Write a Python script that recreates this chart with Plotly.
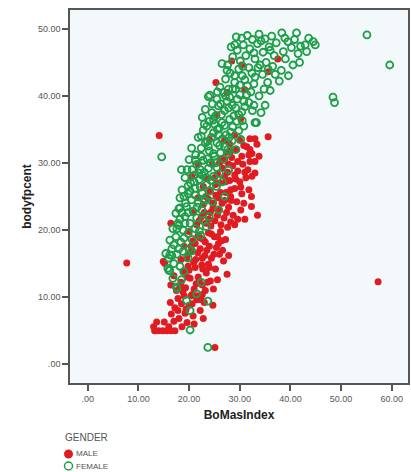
import plotly.graph_objects as go

# ---------------- data ----------------
female_bmi = [
    38.3, 41.2, 39.5, 38.9, 43.6, 42.9, 44.9, 44.5, 40.2, 41.5, 39.0, 40.5, 38.2, 39.6, 37.8, 41.8, 36.5,
    30.7, 32.0, 33.5, 34.6, 35.8, 31.2, 29.5, 33.0, 36.8, 30.1, 34.0, 28.6, 31.8, 35.2, 37.2, 32.5, 29.8,
    28.1, 26.1, 24.1, 27.2, 29.0, 30.5, 31.5, 33.0, 34.5, 35.5, 32.2, 30.0, 28.0, 26.8, 25.5, 33.8, 34.8, 36.0, 29.2, 27.5, 31.0,
    23.8, 23.2, 24.5, 25.8, 27.0, 28.5, 29.8, 31.0, 32.5, 33.3, 30.5, 28.0, 26.5, 24.8, 22.6, 27.5, 29.5, 31.8, 25.2, 23.5,
    22.8, 21.8, 23.6, 24.8, 26.0, 27.3, 28.6, 29.8, 30.8, 25.5, 27.0, 28.5, 22.4, 20.5, 24.0, 26.2, 21.3, 29.2, 23.0, 25.0,
    20.0, 21.5, 22.8, 24.2, 25.5, 26.8, 27.8, 23.0, 21.0, 19.6, 24.8, 26.0, 22.0, 20.3, 23.5, 19.2, 25.0, 27.6,
    18.6, 19.8, 21.2, 22.6, 24.0, 25.4, 20.5, 21.8, 23.2, 18.2, 19.5, 24.6, 20.8, 22.5, 18.0, 17.4,
    19.2, 20.2, 21.5, 22.8, 17.8, 18.8, 19.8, 21.2, 16.8, 17.4, 18.4, 20.6, 16.2, 22.3, 23.4,
    16.6, 17.6, 18.8, 19.8, 16.0, 17.0, 18.2, 16.2, 20.5, 15.4, 19.0,
    17.5, 20.2, 17.6, 20.2, 23.7, 23.7, 16.0, 18.5, 21.5, 22.4, 19.5, 16.8,
    55.1, 59.6, 48.4, 48.7, 14.6,
    18.5, 18.2, 18.0, 16.2, 15.8,
    26.5, 28.3, 29.3, 31.5, 33.8, 35.0, 36.3, 27.8, 30.8, 32.8, 26.2, 28.8, 30.2, 27.9, 25.8, 23.8,
    22.2, 24.3, 21.2, 19.3, 18.2, 20.0, 21.9, 26.6, 27.0, 25.8, 24.0, 22.0,
    33.0, 34.2, 35.0,
    29.0, 30.4, 32.8, 34.2, 36.0, 27.6, 29.0, 30.6, 32.4, 33.6, 35.6, 37.0, 38.6, 40.8, 42.0, 43.2,
    24.6, 25.6, 27.2, 28.6, 30.0, 31.4, 32.8, 26.4, 27.8, 29.2, 30.4, 24.0, 25.6, 27.0, 28.2, 29.4,
    22.4, 23.2, 24.4, 26.6, 27.6, 21.2, 22.4, 23.6, 24.8, 26.0, 20.6, 22.6, 23.8, 25.2,
    19.8, 21.0, 22.2, 23.4, 19.0, 20.2, 21.6, 22.8, 18.6, 19.8, 17.6, 19.2, 17.0, 18.0, 19.0, 16.6,
]
female_bodyfat = [
    49.4, 49.4, 48.1, 48.6, 48.6, 47.6, 47.6, 48.1, 47.2, 46.3, 45.5, 44.6, 43.8, 43.0, 42.2, 45.0, 44.4,
    47.6, 47.0, 47.8, 46.5, 47.3, 46.0, 46.8, 45.5, 46.0, 45.2, 44.6, 45.8, 44.2, 45.0, 47.9, 48.4, 44.0,
    43.4, 41.3, 40.1, 42.5, 42.0, 43.0, 41.5, 42.8, 43.2, 42.0, 40.6, 40.2, 39.8, 40.5, 39.5, 40.0, 41.0, 40.8, 41.0, 43.8, 42.4,
    39.9, 38.0, 37.5, 38.5, 37.8, 38.6, 37.2, 38.4, 37.8, 36.0, 36.3, 36.5, 36.0, 36.4, 36.8, 39.2, 39.5, 39.0, 37.0, 35.5,
    34.9, 33.8, 33.2, 34.5, 35.2, 34.2, 35.4, 34.8, 35.5, 33.0, 32.4, 33.3, 32.2, 32.2, 31.8, 31.5, 31.2, 32.0, 35.8, 35.8,
    30.5, 29.8, 30.4, 30.0, 29.3, 30.6, 29.0, 28.6, 28.2, 29.0, 28.0, 28.4, 27.5, 27.0, 26.8, 27.8, 31.0, 31.4,
    26.0, 25.4, 26.2, 25.5, 25.8, 26.5, 24.5, 24.0, 24.4, 24.8, 23.5, 24.2, 22.8, 23.0, 23.2, 22.5,
    22.0, 21.0, 21.8, 21.4, 21.0, 20.0, 19.5, 20.2, 20.2, 19.0, 18.2, 18.6, 18.5, 19.2, 20.5,
    17.2, 16.4, 16.8, 15.8, 15.8, 15.0, 14.6, 14.0, 16.9, 16.5, 13.8,
    11.5, 8.0, 11.3, 5.1, 2.5, 9.4, 14.0, 12.6, 10.5, 12.2, 9.5, 12.8,
    49.1, 44.6, 39.8, 39.0, 30.9,
    29.0, 23.3, 20.7, 16.3, 14.3,
    44.8, 47.3, 48.8, 49.0, 49.2, 48.5, 48.9, 41.0, 39.2, 41.8, 38.8, 37.0, 33.5, 33.8, 34.2, 32.5,
    29.0, 27.4, 25.2, 24.0, 21.6, 17.2, 28.5, 27.2, 25.0, 23.0, 22.0, 19.8,
    36.0, 37.5, 38.6,
    47.6, 48.6, 46.4, 48.2, 46.8, 44.6, 43.0, 44.4, 43.4, 44.2, 44.0, 43.2, 46.6, 48.4, 47.4, 46.6,
    38.8, 40.6, 40.0, 41.0, 41.6, 40.2, 38.6, 37.2, 38.2, 38.2, 37.6, 36.2, 35.0, 35.6, 34.6, 36.2,
    34.0, 33.0, 33.8, 33.6, 32.0, 30.4, 31.0, 30.6, 31.4, 32.6, 29.0, 28.2, 29.2, 30.0,
    26.6, 27.2, 26.4, 27.8, 25.0, 25.8, 23.4, 24.6, 22.6, 22.6, 20.2, 21.0, 17.8, 17.2, 18.8, 16.2,
]

male_bmi = [
    13.2, 14.0, 14.8, 15.6, 16.4, 17.2, 13.6, 15.1, 13.0, 16.0,
    16.5, 17.2, 18.0, 18.5, 19.2, 20.0, 20.8, 21.5, 22.2, 19.6, 17.8, 23.0, 24.7, 21.0, 22.8, 18.6, 20.4, 17.0, 22.6, 16.3,
    17.5, 18.4, 19.3, 20.2, 21.0, 21.8, 22.6, 23.4, 24.2, 18.8, 19.8, 21.2, 22.5, 23.8, 25.2, 17.0, 20.6, 24.8, 27.5, 16.4, 15.2, 25.6, 19.0, 22.0,
    19.5, 20.4, 21.3, 22.2, 23.1, 24.0, 24.9, 25.8, 26.6, 20.8, 21.8, 22.8, 23.8, 25.0, 26.2, 27.2, 19.0, 18.4, 27.8, 20.0, 14.9, 7.7, 16.4, 26.8,
    21.5, 22.4, 23.3, 24.2, 25.1, 26.0, 26.9, 27.8, 28.7, 22.8, 23.8, 24.8, 25.8, 27.0, 28.2, 29.4, 30.2, 29.0, 27.6, 20.8, 33.5, 32.3, 32.3, 31.0, 21.8,
    24.2, 25.2, 26.2, 27.2, 28.2, 29.2, 30.2, 31.2, 25.6, 26.6, 27.6, 28.6, 29.6, 30.6, 31.6, 32.4, 23.6, 31.8, 24.6, 33.0, 33.0,
    26.4, 27.4, 28.4, 29.4, 30.4, 31.4, 32.4, 33.4, 28.0, 30.0, 32.0, 27.0, 35.6, 14.1, 33.8, 29.0, 32.0,
    37.5, 27.5, 25.5, 28.4, 22.8, 20.5, 24.0, 25.3, 30.2, 21.8, 30.4, 35.6, 31.0,
    25.1, 57.3,
    17.8, 18.8, 19.6, 20.6, 21.4, 22.4, 23.2, 18.2, 20.0, 21.6, 23.6, 19.4,
    19.8, 20.9, 21.7, 22.6, 23.5, 24.4, 25.4, 21.2, 22.2, 23.2, 24.4, 25.6, 26.4, 24.0, 26.0, 20.4, 22.7,
    22.0, 23.0, 23.9, 24.7, 25.6, 26.5, 27.4, 28.3, 29.6, 30.4, 24.3, 26.3, 28.2, 25.3, 27.3, 29.0, 30.8, 23.3,
    25.0, 26.0, 27.0, 28.0, 29.0, 30.0, 31.0, 32.0, 26.0, 27.0, 28.2, 29.6, 30.8, 31.8, 33.0, 27.8,
]
male_bodyfat = [
    5.0, 5.0, 5.0, 5.0, 5.0, 5.0, 6.3, 6.3, 5.6, 5.6,
    7.5, 8.4, 6.8, 9.0, 7.6, 8.8, 7.2, 9.6, 8.0, 6.2, 9.8, 9.2, 8.8, 6.0, 6.8, 5.6, 10.2, 6.4, 10.4, 9.2,
    11.0, 12.2, 11.4, 12.8, 11.2, 13.0, 11.8, 13.6, 12.4, 13.8, 14.6, 14.4, 14.8, 14.9, 14.2, 13.2, 10.4, 11.2, 13.4, 11.8, 15.0, 12.6, 10.2, 12.4,
    15.8, 16.8, 15.6, 17.2, 16.2, 17.6, 16.4, 18.0, 17.0, 18.4, 19.2, 18.6, 19.6, 19.0, 19.8, 18.6, 17.6, 15.6, 16.2, 19.8, 15.3, 15.1, 21.0, 15.4,
    20.8, 22.0, 21.0, 22.6, 21.4, 23.0, 21.8, 23.4, 22.2, 23.8, 24.6, 24.0, 24.8, 24.4, 25.0, 24.2, 23.0, 20.8, 20.4, 22.6, 22.2, 23.5, 25.0, 21.6, 24.8,
    25.8, 26.8, 25.6, 27.2, 26.0, 27.6, 26.4, 27.8, 28.4, 29.2, 28.6, 29.6, 28.8, 29.8, 29.0, 28.0, 27.6, 26.0, 29.8, 30.2, 28.5,
    30.6, 31.6, 30.8, 32.0, 31.0, 32.4, 31.4, 32.8, 32.8, 33.4, 33.6, 33.4, 33.9, 34.1, 31.0, 34.2, 32.0,
    45.5, 40.5, 37.2, 45.2, 26.5, 28.0, 33.5, 42.0, 36.6, 29.8, 44.6, 43.6, 40.9,
    2.5, 12.3,
    8.0, 10.8, 13.0, 9.0, 12.0, 9.6, 11.0, 11.6, 14.0, 10.2, 12.2, 8.2,
    16.4, 15.2, 16.6, 15.8, 17.0, 15.8, 17.4, 18.0, 18.8, 18.2, 19.4, 19.0, 18.4, 14.4, 16.4, 17.6, 14.2,
    21.4, 22.6, 21.6, 23.2, 22.2, 24.0, 22.6, 24.4, 21.6, 25.4, 20.6, 20.8, 21.2, 25.2, 25.6, 26.2, 24.0, 25.0,
    27.8, 27.0, 28.0, 27.4, 28.2, 27.2, 28.6, 30.2, 30.0, 30.4, 31.8, 30.2, 32.6, 31.2, 33.6, 29.8,
]

x_ticks = [0, 10, 20, 30, 40, 50, 60]
x_tick_labels = [".00", "10.00", "20.00", "30.00", "40.00", "50.00", "60.00"]
y_ticks = [0, 10, 20, 30, 40, 50]
y_tick_labels = [".00", "10.00", "20.00", "30.00", "40.00", "50.00"]
legend_title = "GENDER"
legend_labels = ["MALE", "FEMALE"]

RED = "#E11B22"
GREEN = "#1E9E48"
TXT = "#555555"
FONT = "Liberation Sans, Arial, sans-serif"

# plot area in pixels (for placing the legend below it)
W, H = 411, 472
L, R, T, B = 70, 3, 10, 89
pw, ph = W - L - R, H - T - B
def px(xp):
    return (xp - L) / pw
def py(yp):
    return (H - B - yp) / ph

fig = go.Figure()
fig.add_trace(go.Scatter(
    x=male_bmi, y=male_bodyfat, mode="markers", name=legend_labels[0], showlegend=False,
    marker=dict(symbol="circle", size=7, color=RED, line=dict(width=0)),
))
fig.add_trace(go.Scatter(
    x=female_bmi, y=female_bodyfat, mode="markers", name=legend_labels[1], showlegend=False,
    marker=dict(symbol="circle-open", size=7, color=GREEN, line=dict(width=1.8, color=GREEN)),
))

axis_common = dict(
    showgrid=False, zeroline=False, showline=True, mirror=True,
    linecolor="#555555", linewidth=1.5,
    ticks="outside", ticklen=6, tickwidth=1.5, tickcolor="#555555",
    tickfont=dict(family=FONT, size=9, color=TXT),
)

# legend (SPSS style, below the plot)
annotations = [
    dict(text=legend_title, x=px(63), y=py(437), xref="paper", yref="paper",
         xanchor="left", yanchor="middle", showarrow=False,
         font=dict(family=FONT, size=10, color=TXT)),
    dict(text=legend_labels[0], x=px(74), y=py(454), xref="paper", yref="paper",
         xanchor="left", yanchor="middle", showarrow=False,
         font=dict(family=FONT, size=8, color=TXT)),
    dict(text=legend_labels[1], x=px(74), y=py(466), xref="paper", yref="paper",
         xanchor="left", yanchor="middle", showarrow=False,
         font=dict(family=FONT, size=8, color=TXT)),
]
shapes = [
    dict(type="circle", xref="paper", yref="paper", xsizemode="pixel", ysizemode="pixel",
         xanchor=px(68.5), yanchor=py(454), x0=-4.5, x1=4.5, y0=-4.5, y1=4.5,
         fillcolor=RED, line=dict(width=0)),
    dict(type="circle", xref="paper", yref="paper", xsizemode="pixel", ysizemode="pixel",
         xanchor=px(68.5), yanchor=py(466), x0=-4, x1=4, y0=-4, y1=4,
         fillcolor="rgba(0,0,0,0)", line=dict(width=1.5, color=GREEN)),
]

fig.update_layout(
    width=W, height=H,
    margin=dict(l=L, r=R, t=T, b=B, autoexpand=False),
    paper_bgcolor="white",
    plot_bgcolor="#F3F8FA",
    font=dict(family=FONT),
    xaxis=dict(
        range=[-3.5, 63.2], tickvals=x_ticks, ticktext=x_tick_labels,
        title=dict(text="<b>BoMasIndex</b>", font=dict(size=12, color="#222222"), standoff=8),
        **axis_common,
    ),
    yaxis=dict(
        range=[-2.8, 52.8], tickvals=y_ticks, ticktext=y_tick_labels,
        title=dict(text="<b>bodyfpcent</b>", font=dict(size=12, color="#222222"), standoff=4),
        **axis_common,
    ),
    showlegend=False,
    annotations=annotations,
    shapes=shapes,
)

fig.write_html(
    "out.html",
    config={"displayModeBar": False},
    post_script="document.body.style.margin='0';document.body.style.padding='0';",
)
